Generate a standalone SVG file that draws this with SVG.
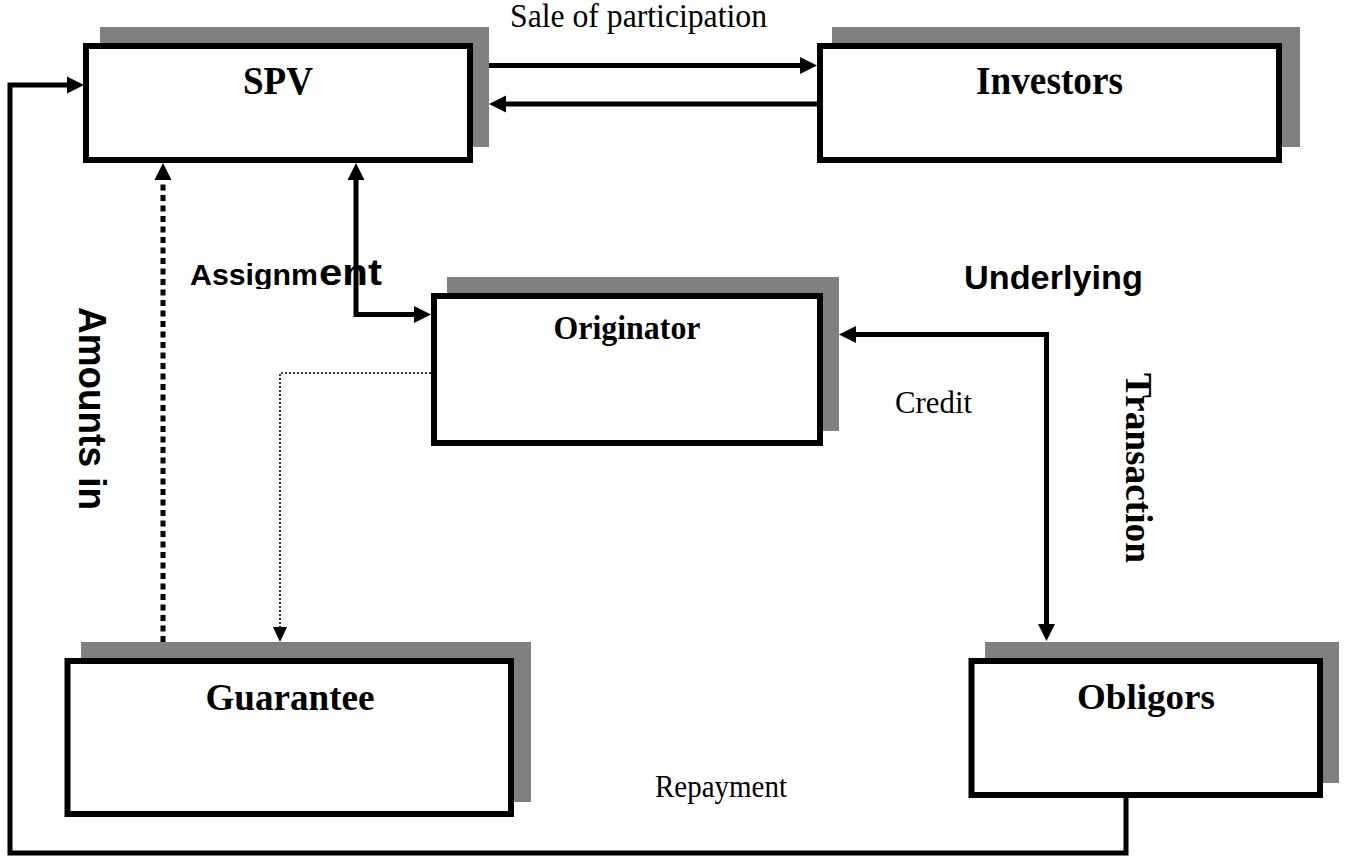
<svg xmlns="http://www.w3.org/2000/svg" width="1349" height="857" viewBox="0 0 1349 857">
<style>
.shadow{fill:#808080;stroke:none}
.box{fill:#fff;stroke:#000;stroke-width:6}
.name{font-family:"Liberation Serif","Times New Roman",serif;font-weight:bold;font-size:38px;fill:#000;text-anchor:middle}
.serif{font-family:"Liberation Serif","Times New Roman",serif;font-size:32px;fill:#000}
.sans{font-family:"Liberation Sans",Arial,sans-serif;font-weight:bold;fill:#000}
.tserif{font-family:"Liberation Serif","Times New Roman",serif;font-weight:bold;fill:#000}
.con{fill:none;stroke:#000;stroke-width:5}
.dash{fill:none;stroke:#000;stroke-width:5;stroke-dasharray:6 4.5}
.dot{fill:none;stroke:#000;stroke-width:1.6;stroke-dasharray:2 2}
</style>
<defs>
<marker id="ah" markerUnits="userSpaceOnUse" markerWidth="18" markerHeight="18" refX="0" refY="8.5" orient="auto-start-reverse" overflow="visible">
<path d="M0,0 L17,8.5 L0,17 Z" fill="#000"/>
</marker>
<marker id="ahs" markerUnits="userSpaceOnUse" markerWidth="16" markerHeight="16" refX="0" refY="7" orient="auto-start-reverse" overflow="visible">
<path d="M0,0 L15,7 L0,14 Z" fill="#000"/>
</marker>
<clipPath id="clipA"><rect x="180" y="240" width="150" height="49"/></clipPath>
</defs>

<g id="spv">
<rect class="shadow" x="100" y="27" width="389" height="120"/>
<rect class="box" x="86" y="46" width="384" height="114"/>
<text class="name" x="278" y="94" style="font-size:39px" textLength="70" lengthAdjust="spacingAndGlyphs">SPV</text>
</g>

<g id="investors">
<rect class="shadow" x="832" y="27" width="468" height="120"/>
<rect class="box" x="820" y="46" width="459" height="114"/>
<text class="name" x="1049.5" y="94" style="font-size:39px" textLength="147" lengthAdjust="spacingAndGlyphs">Investors</text>
</g>

<g id="originator">
<rect class="shadow" x="447" y="277" width="392" height="154"/>
<rect class="box" x="434" y="296" width="386" height="147"/>
<text class="name" x="627" y="339" style="font-size:34px" textLength="147" lengthAdjust="spacingAndGlyphs">Originator</text>
</g>

<g id="guarantee">
<rect class="shadow" x="81" y="642" width="450" height="160"/>
<rect class="box" x="67.5" y="661" width="443.5" height="153"/>
<text class="name" x="290" y="710" textLength="169" lengthAdjust="spacingAndGlyphs">Guarantee</text>
</g>

<g id="obligors">
<rect class="shadow" x="985" y="642" width="354" height="141"/>
<rect class="box" x="971.5" y="661" width="348.5" height="134"/>
<text class="name" x="1146" y="709" style="font-size:36px" textLength="138" lengthAdjust="spacingAndGlyphs">Obligors</text>
</g>

<g id="labels">
<text class="serif" x="510" y="27" style="font-size:33px" textLength="257" lengthAdjust="spacingAndGlyphs">Sale of participation</text>
<text class="serif" x="895" y="413" textLength="77" lengthAdjust="spacingAndGlyphs">Credit</text>
<text class="serif" x="655" y="797" style="font-size:31px" textLength="132" lengthAdjust="spacingAndGlyphs">Repayment</text>
<text class="sans" x="964" y="289" style="font-size:33px" textLength="179" lengthAdjust="spacingAndGlyphs">Underlying</text>
<text class="sans" x="190" y="285" style="font-size:30px" textLength="128" lengthAdjust="spacingAndGlyphs" clip-path="url(#clipA)">Assignm</text>
<text class="sans" x="319" y="285" style="font-size:37px" textLength="63" lengthAdjust="spacingAndGlyphs">ent</text>
<text class="sans" transform="translate(79,307) rotate(90)" x="0" y="0" style="font-size:38px" textLength="203" lengthAdjust="spacingAndGlyphs">Amounts in</text>
<text class="tserif" transform="translate(1126,373) rotate(90)" x="0" y="0" style="font-size:38px" textLength="190" lengthAdjust="spacingAndGlyphs">Transaction</text>
</g>

<g id="connectors">
<path class="con" d="M489,65.5 H800" marker-end="url(#ah)"/>
<path class="con" d="M817,104 H506" marker-end="url(#ah)"/>
<path class="con" d="M1126,798 V853 H10 V85 H67" marker-end="url(#ah)"/>
<path class="con" d="M356,180 V314.5 H414" marker-start="url(#ah)" marker-end="url(#ah)"/>
<path class="dash" d="M163,642 V180" marker-end="url(#ah)"/>
<path class="dot" d="M431,373 H280 V627" marker-end="url(#ahs)"/>
<path class="con" d="M856,334.5 H1046.5 V624" marker-start="url(#ah)" marker-end="url(#ah)"/>
</g>
</svg>
